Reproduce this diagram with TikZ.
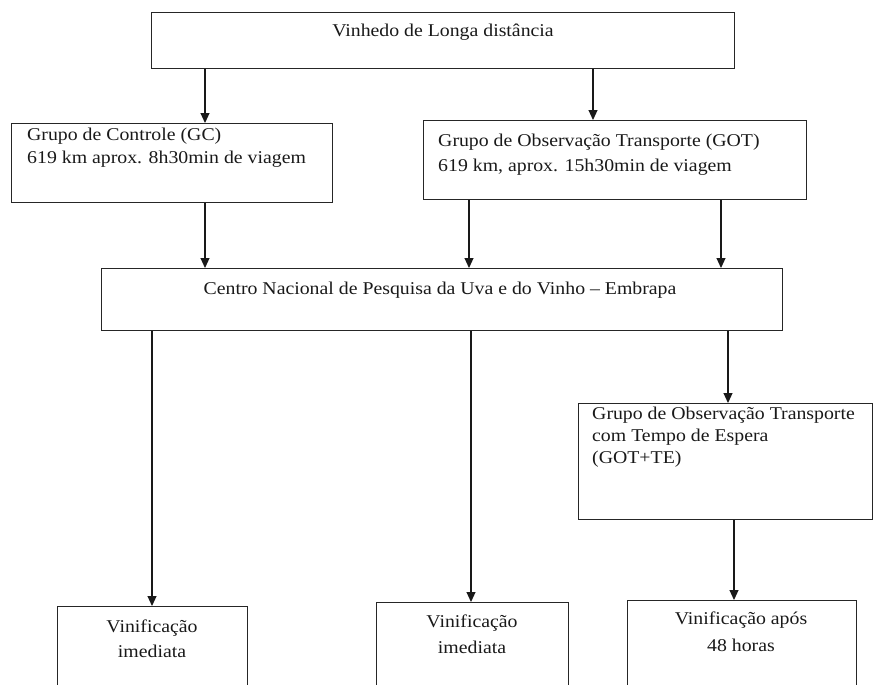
\documentclass[tikz,border=0pt]{standalone}
\usepackage{fontspec}
\usepackage{graphicx}
\setmainfont{Liberation Serif}
\usetikzlibrary{arrows.meta}
% multi-line text, slightly widened, whose baseline is the first line
\newcommand\boxtextL[2]{\scalebox{1.1}[1]{\fontsize{18}{#1}\selectfont\begin{tabular}[t]{@{}l@{}}#2\end{tabular}}}
\newcommand\boxtextC[2]{\scalebox{1.1}[1]{\fontsize{18}{#1}\selectfont\begin{tabular}[t]{@{}c@{}}#2\end{tabular}}}
\begin{document}
\begin{tikzpicture}[x=1pt,y=-1pt,
  box/.style={draw=black!85, line width=1.2pt, inner sep=0pt, anchor=north west},
  txt/.style={inner sep=0pt, text=black!90},
  arr/.style={draw=black!90, line width=1.1pt, -{Triangle[length=10pt,width=9pt]}}]
\useasboundingbox (0,0) rectangle (873,685);
\clip (0,0) rectangle (873,685);

% boxes
\node[box, minimum width=583pt, minimum height=56pt]  (top) at (151,12)  {};
\node[box, minimum width=321pt, minimum height=79pt]  (gc)  at (11,123)  {};
\node[box, minimum width=383pt, minimum height=79pt]  (got) at (423,120) {};
\node[box, minimum width=681pt, minimum height=62pt]  (cen) at (101,268) {};
\node[box, minimum width=294pt, minimum height=116pt] (te)  at (578,403) {};
\node[box, minimum width=190pt, minimum height=110pt] (v1)  at (57,606)  {};
\node[box, minimum width=192pt, minimum height=110pt] (v2)  at (376,602) {};
\node[box, minimum width=229pt, minimum height=110pt] (v3)  at (627,600) {};

% texts
\node[txt, anchor=base] (top-t) at (443,37) {\boxtextC{21}{Vinhedo de Longa distância}};
\node[txt, anchor=base west] (gc-t) at (27,140)
  {\boxtextL{23}{Grupo de Controle (GC)\\619 km aprox. 8h30min de viagem}};
\node[txt, anchor=base west] (got-t) at (438,146)
  {\boxtextL{25}{Grupo de Observação Transporte (GOT)\\619 km, aprox. 15h30min de viagem}};
\node[txt, anchor=base] (cen-t) at (440,294)
  {\boxtextC{21}{Centro Nacional de Pesquisa da Uva e do Vinho – Embrapa}};
\node[txt, anchor=base west] (te-t) at (592,419)
  {\boxtextL{22}{Grupo de Observação Transporte\\com Tempo de Espera\\(GOT+TE)}};
\node[txt, anchor=base] (v1-t) at (152,632) {\boxtextC{25}{Vinificação\\imediata}};
\node[txt, anchor=base] (v2-t) at (472,627) {\boxtextC{26}{Vinificação\\imediata}};
\node[txt, anchor=base] (v3-t) at (741,624) {\boxtextC{27}{Vinificação após\\48 horas}};

% arrow columns
\coordinate (xa) at (205,0);
\coordinate (xb) at (593,0);
\coordinate (xc) at (469,0);
\coordinate (xd) at (721,0);
\coordinate (xe) at (152,0);
\coordinate (xf) at (471,0);
\coordinate (xg) at (728,0);
\coordinate (xh) at (734,0);

% connectors
\draw[arr] (top.south -| xa) -- (gc.north -| xa);
\draw[arr] (top.south -| xb) -- (got.north -| xb);
\draw[arr] (gc.south -| xa) -- (cen.north -| xa);
\draw[arr] (got.south -| xc) -- (cen.north -| xc);
\draw[arr] (got.south -| xd) -- (cen.north -| xd);
\draw[arr] (cen.south -| xe) -- (v1.north -| xe);
\draw[arr] (cen.south -| xf) -- (v2.north -| xf);
\draw[arr] (cen.south -| xg) -- (te.north -| xg);
\draw[arr] (te.south -| xh) -- (v3.north -| xh);
\end{tikzpicture}
\end{document}
